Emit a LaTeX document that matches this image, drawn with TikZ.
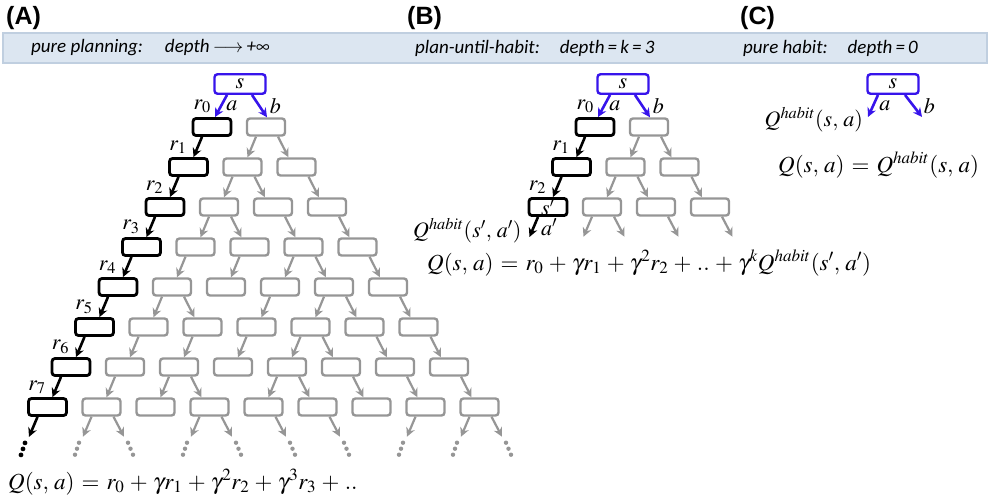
\documentclass[tikz,border=0pt]{standalone}
\usepackage{mathptmx}
\usepackage{fontspec}
\newfontfamily\hdrfont{Carlito}
\newfontfamily\panelfont{Liberation Sans}
\usepackage{tikz}
\usetikzlibrary{arrows.meta, positioning, calc}

\definecolor{tgrey}{RGB}{150,150,150}
\definecolor{tblue}{RGB}{55,20,235}
\definecolor{bandfill}{RGB}{220,230,241}
\definecolor{bandline}{RGB}{192,207,224}

\newcommand{\eqsp}{\thickmuskip=5.5mu\relax\medmuskip=4.2mu\relax}

\tikzset{
  gbox/.style={draw=tgrey, line width=2.4pt, rounded corners=3pt, minimum width=38pt, minimum height=17pt, inner sep=0pt},
  blkbox/.style={gbox, draw=black, line width=2.8pt},
  sbox/.style={gbox, draw=tblue, minimum width=51pt, minimum height=19.5pt, font=\fontsize{22}{24}\selectfont},
  garr/.style={draw=tgrey, line width=2.2pt, -{Stealth[length=9pt, width=9pt, inset=3pt]}},
  barr/.style={garr, draw=black, line width=2.6pt},
  blarr/.style={garr, draw=tblue, line width=2.6pt},
  lbl/.style={font=\fontsize{22}{24}\selectfont, inner sep=1pt},
  eqn/.style={font=\fontsize{23}{26}\selectfont, inner sep=0pt, anchor=west},
  hdr/.style={font=\hdrfont\itshape\fontsize{19}{22}\selectfont, anchor=west, inner sep=0pt},
  panel/.style={font=\panelfont\bfseries\fontsize{25}{28}\selectfont, anchor=west, inner sep=0pt},
  band/.style={draw=bandline, fill=bandfill, line width=1.2pt, minimum width=984pt, minimum height=30pt, inner sep=0pt}
}

\begin{document}
\begin{tikzpicture}[x=1pt, y=1pt]
  \useasboundingbox (0,0) rectangle (988,-496);

  % header
  \node[band] (hdr) at (495,-48) {};
  \node[panel] (pa) at (6,-18) {(A)};
  \node[panel] (pb) at (407,-18) {(B)};
  \node[panel] (pc) at (740,-18) {(C)};
  \node[hdr] (ha) at (31,-48) {pure planning:\hspace{22pt}depth\,$\longrightarrow$\,+$\infty$};
  \node[hdr] (hb) at (415,-48) {plan-until-habit:\hspace{20pt}depth\,=\,k\,=\,3};
  \node[hdr] (hc) at (743,-48) {pure habit:\hspace{20pt}depth\,=\,0};

  % (A) pure planning
  \node[sbox] (sa) at (240,-84) {$s$};
  \foreach \L in {1,...,8}{
    \foreach \j in {0,...,\L}{
      \pgfmathsetmacro\px{212-23.5*(\L-1)+54*\j}
      \pgfmathsetmacro\py{-127-40*(\L-1)}
      \ifnum\j=0
        \node[blkbox] (a-\L-\j) at (\px,\py) {};
      \else
        \node[gbox] (a-\L-\j) at (\px,\py) {};
      \fi
    }
  }

  \draw[blarr] ([xshift=-13pt]sa.south) -- node[lbl, left=8pt] {$r_0$} node[lbl, right=3pt] {$a$} ([xshift=3pt]a-1-0.north);
  \draw[blarr] ([xshift=12pt]sa.south) -- node[lbl, right=8pt] {$b$} ([xshift=1pt]a-1-1.north);

  % greedy path
  \foreach \L in {1,...,7}{
    \pgfmathtruncatemacro\nL{\L+1}
    \draw[barr] ([xshift=-10pt]a-\L-0.south) -- node[lbl, left=9pt] {$r_{\L}$} ([xshift=5pt]a-\nL-0.north);
  }
  \coordinate (el-0) at ([shift={(-18.5,-20)}]a-8-0.south);
  \draw[barr] ([xshift=-10pt]a-8-0.south) -- (el-0);
  \foreach \d in {1,2,3} \fill ([shift={(-2*\d-2,-6*\d)}]el-0) circle (2.4);

  % other branches
  \foreach \L/\j in {1/1,2/1,3/1,4/1,4/2,4/3,5/1,5/3,5/4,6/1,6/2,6/3,6/4,7/1,7/2,7/4}{
    \pgfmathtruncatemacro\nL{\L+1}
    \draw[garr] ([xshift=-10pt]a-\L-\j.south) -- ([xshift=5pt]a-\nL-\j.north);
  }
  \foreach \L/\j in {1/1,2/1,2/2,3/1,3/2,3/3,4/3,4/4,5/1,5/4,5/5,6/4,6/5,6/6,7/2,7/4,7/5,7/6,7/7}{
    \pgfmathtruncatemacro\nL{\L+1}
    \pgfmathtruncatemacro\nj{\j+1}
    \draw[garr] ([xshift=12pt]a-\L-\j.south) -- ([xshift=-8pt]a-\nL-\nj.north);
  }
  \foreach \j in {1,3,7,8}{
    \coordinate (el-\j) at ([shift={(-18.5,-20)}]a-8-\j.south);
    \draw[garr] ([xshift=-10pt]a-8-\j.south) -- (el-\j);
    \foreach \d in {1,2,3} \fill[tgrey] ([shift={(-2*\d-2,-6*\d)}]el-\j) circle (2.2);
  }
  \foreach \j in {1,3,4,5,8}{
    \coordinate (er-\j) at ([shift={(22.5,-20)}]a-8-\j.south);
    \draw[garr] ([xshift=12pt]a-8-\j.south) -- (er-\j);
    \foreach \d in {1,2,3} \fill[tgrey] ([shift={(2.5*\d+1.5,-6*\d)}]er-\j) circle (2.2);
  }

  \node[eqn] (qa) at (8,-482) {\eqsp$Q(s,\,a) = r_0 + \gamma r_1 + \gamma^2 r_2 + \gamma^3 r_3 + ..$};

  % (B) plan-until-habit
  \node[sbox] (sb) at (623,-84) {$s$};
  \foreach \L in {1,2,3}{
    \foreach \j in {0,...,\L}{
      \pgfmathsetmacro\px{595-23.5*(\L-1)+54*\j}
      \pgfmathsetmacro\py{-127-40*(\L-1)}
      \ifnum\j=0
        \node[blkbox, lbl, inner sep=0pt] (b-\L-\j) at (\px,\py) {\ifnum\L=3 $s'$\fi};
      \else
        \node[gbox] (b-\L-\j) at (\px,\py) {};
      \fi
    }
  }

  \draw[blarr] ([xshift=-13pt]sb.south) -- node[lbl, left=8pt] {$r_0$} node[lbl, right=3pt] {$a$} ([xshift=3pt]b-1-0.north);
  \draw[blarr] ([xshift=12pt]sb.south) -- node[lbl, right=8pt] {$b$} ([xshift=1pt]b-1-1.north);
  \draw[barr] ([xshift=-10pt]b-1-0.south) -- node[lbl, left=9pt] {$r_1$} ([xshift=5pt]b-2-0.north);
  \draw[barr] ([xshift=-10pt]b-2-0.south) -- node[lbl, left=9pt] {$r_2$} ([xshift=5pt]b-3-0.north);

  \foreach \L/\j in {1/1,2/1}{
    \pgfmathtruncatemacro\nL{\L+1}
    \draw[garr] ([xshift=-10pt]b-\L-\j.south) -- ([xshift=5pt]b-\nL-\j.north);
  }
  \foreach \L/\j in {1/1,2/1,2/2}{
    \pgfmathtruncatemacro\nL{\L+1}
    \pgfmathtruncatemacro\nj{\j+1}
    \draw[garr] ([xshift=12pt]b-\L-\j.south) -- ([xshift=-8pt]b-\nL-\nj.north);
  }
  \coordinate (bl-1) at ([shift={(-18.5,-20)}]b-3-1.south);
  \draw[garr] ([xshift=-10pt]b-3-1.south) -- (bl-1);
  \foreach \j in {1,2,3}{
    \coordinate (br-\j) at ([shift={(22.5,-20)}]b-3-\j.south);
    \draw[garr] ([xshift=12pt]b-3-\j.south) -- (br-\j);
  }

  % habit at the leaf
  \coordinate (bl-0) at ([shift={(-18.5,-20)}]b-3-0.south);
  \draw[barr] ([xshift=-10pt]b-3-0.south) -- node[lbl, right=5pt] {$a'$} (bl-0);
  \node[lbl, anchor=east] (qhb) at ([shift={(-7,6)}]bl-0) {$Q^{habit}(s',\,a')$};

  \node[eqn] (qb) at (427,-263) {\eqsp$Q(s,\,a) = r_0 + \gamma r_1 + \gamma^2 r_2 + .. + \gamma^k Q^{habit}(s',\,a')$};

  % (C) pure habit
  \node[sbox] (sc) at (893,-84) {$s$};
  \coordinate (ca) at ([shift={(-25,-22)}]sc.south);
  \coordinate (cb) at ([shift={(29,-22)}]sc.south);
  \draw[blarr] ([xshift=-15pt]sc.south) -- node[lbl, right=4pt] {$a$} (ca);
  \draw[blarr] ([xshift=12pt]sc.south) -- node[lbl, right=8pt] {$b$} (cb);
  \node[lbl, anchor=east] (qhc) at ([shift={(-4,-3)}]ca) {$Q^{habit}(s,\,a)$};

  \node[eqn] (qc) at (778,-165) {\eqsp$Q(s,\,a) = Q^{habit}(s,\,a)$};
\end{tikzpicture}
\end{document}
